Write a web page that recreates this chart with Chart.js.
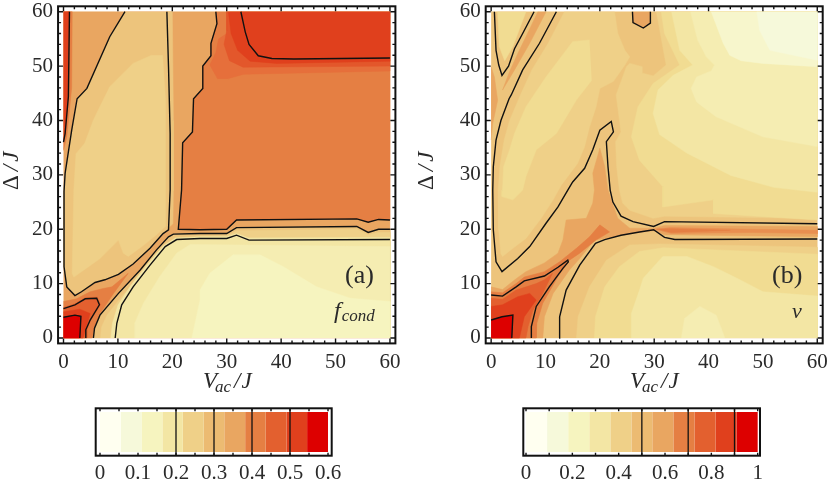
<!DOCTYPE html>
<html><head><meta charset="utf-8">
<script src="https://cdn.jsdelivr.net/npm/chart.js@4"></script>
<style>html,body{margin:0;background:#fff}canvas{position:absolute}</style>
</head><body>
<canvas id="pa" style="left:0;top:0"></canvas>
<canvas id="pb" style="left:415px;top:0"></canvas>
<canvas id="ca" style="left:80px;top:395px"></canvas>
<canvas id="cb" style="left:510px;top:395px"></canvas>
<script>
/* ---------- tick values ---------- */
const panelTicks=[0,10,20,30,40,50,60];
const panelMinor=[0,2,4,6,8,10,12,14,16,18,20,22,24,26,28,30,32,34,36,38,40,42,44,46,48,50,52,54,56,58,60];
const barATicks=[0,0.1,0.2,0.3,0.4,0.5,0.6];
const barAMinor=[0,0.05,0.1,0.15,0.2,0.25,0.3,0.35,0.4,0.45,0.5,0.55,0.6];
const barBTicks=[0,0.2,0.4,0.6,0.8,1];
const barBMinor=[0,0.1,0.2,0.3,0.4,0.5,0.6,0.7,0.8,0.9,1];
const barALevels=[0.2,0.3,0.4,0.5];
const barBLevels=[0.5,0.7,0.9];
const barAEdges=[0,0.0545,0.109,0.164,0.218,0.273,0.327,0.382,0.436,0.491,0.545,0.6];
const barBEdges=[0,0.091,0.182,0.273,0.364,0.455,0.545,0.636,0.727,0.818,0.909,1];
/* ---------- colour levels ---------- */
const c0='#FFFFF0',c1='#F6F9DA',c2='#F6F4BF',c3='#F3E6A4',c4='#EFD088',c5='#ECBB72',c6='#E9A661',c7='#E57F43',c8='#E3602F',c9='#E0401D',c10='#DD0000';
const bandColors=[c0,c1,c2,c3,c4,c5,c6,c7,c8,c9,c10];
const t35='#F1DC92',t25='#F5EDB2',t15='#F7F6CC',t5='#EDC47C',t75='#E66F3B',t85='#E3572B',t65='#E88F50';
const full=[[0,0],[60,0],[60,60],[0,60]];

/* ---------- panel (a): contour lines ---------- */
const aStripLine=[[1.1,60],[0.9,44.4],[0.3,37.6],[0,36]];
const aLine3=[[11.3,60],[8.5,55.4],[4.3,45.9],[2.5,44],[1.5,38.2],[0.3,30.3],[0.1,27],[0.1,13.1],[0.6,9.4],[2.1,7.8],[3.3,8.5],[5.8,10.2],[7.6,10.7],[10.1,11.7],[12.8,13.6],[15.9,16.5],[18.3,19.2],[19.3,19.9],[19.6,27.2],[19.6,37.6],[19.3,49.9],[19,60]];
const aLine4=[[28,60],[28.2,57.8],[27.1,54.2],[27.1,51.9],[25.6,50],[25.6,45.9],[23.9,44],[23.7,37.9],[21.9,35.9],[21.7,27.2],[21.1,20],[25.1,19.9],[30,20],[31.8,21.7],[53.9,21.9],[56,21.3],[57.9,21.8],[60,21.7]];
const aLine5=[[32.6,60],[33.4,56.3],[34.1,54],[35.8,51.9],[38.3,51.4],[42.3,51.3],[60,51.5]];
const aMidLine=[[5.5,0],[5.7,1.8],[6.7,4.2],[10.1,8.2],[14.1,12.5],[17.1,16.2],[19.3,18.6],[20.2,19.1],[25.1,19.2],[30,19.2],[31.8,20.3],[53.9,20.5],[56,19.4],[57.9,20],[60,20]];
const aLowLine=[[9.5,0],[9.8,2.7],[10.7,6.1],[12.8,9.4],[15.9,13.4],[18.7,16.8],[20.8,18.1],[25.1,18.3],[30,18.3],[31.8,18.9],[34.1,18],[60,18.1]];
const aRedLine4=[[0,5.4],[2.1,6.1],[4,7.2],[6.1,7.3],[6.6,6.1],[4.9,3.3],[4.1,1.5],[4.1,0]];
const aRedLine5=[[0,3.8],[2.1,4.2],[3.2,4],[3,0]];
/* ---------- panel (a): filled bands ---------- */
const aStrip7=[[0,60],[1.6,60],[1.5,46],[0.6,37],[0,34.5]];
const aStrip9=[[0,60],[1.1,60],[0.9,44.4],[0.3,37.6],[0,36]];
const aRim5=[[19,60],[20,60],[20.2,40],[20.2,27],[20.1,21],[19,20]];
const aIn4=[[16.2,52],[12.8,50.5],[8.5,46.2],[5.5,40.1],[3.9,35.8],[2.3,33.9],[1.9,27.2],[1.6,11.9],[1.9,11.2],[4.6,13.1],[6.7,14.6],[10.1,18],[11,15.6],[11.9,15],[14.4,16.8],[17.1,19],[18.7,20.5],[18.8,27.2],[18.7,43.8],[18.2,52]];
const aBlock7=[[28,60],[28.2,57.8],[27.1,54.2],[27.1,51.9],[25.6,50],[25.6,45.9],[23.9,44],[23.7,37.9],[21.9,35.9],[21.7,27.2],[21.1,20],[25.1,19.9],[30,20],[31.8,21.7],[53.9,21.9],[56,21.3],[57.9,21.8],[60,21.7],[60,60]];
const aBlock75=[[30,60],[30,56],[28.5,55],[28,52.5],[26.9,50.2],[28.3,47.7],[30.3,47.7],[33.1,48.5],[60,49.1],[60,60]];
const aBlock85=[[30,60],[30,56.5],[29.5,54],[30.5,51],[33,49.8],[60,50],[60,60]];
const aBlock9=[[30.3,60],[30.8,56],[32,52.9],[34.3,50.9],[39.2,50.5],[60,50.9],[60,60]];
const aRidge7=[[0,6.7],[2.4,7.2],[4.9,8.5],[7.3,9.1],[8.9,9.4],[11.9,11.9],[9.2,8.2],[6.7,4.5],[5.2,0],[0,0]];
const aRed8=[[0,5.6],[2.1,6.3],[4,7.4],[6.2,7.5],[6.8,6.1],[5,3.3],[4.3,1.5],[4.3,0],[0,0]];
const aRed9=[[0,4.8],[3,5.3],[4.9,4.5],[3.6,0],[0,0]];
const aRed10=[[0,3.8],[2.1,4.2],[3.2,4],[3,0],[0,0]];
const aBelow5=[[5.5,0],[5.7,1.8],[6.7,4.2],[10.1,8.2],[14.1,12.5],[17.1,16.2],[19.3,18.6],[20.2,19.1],[25.1,19.2],[30,19.2],[31.8,20.3],[53.9,20.5],[56,19.4],[57.9,20],[60,20],[60,0]];
const aBelow4=[[6.8,0],[7,2],[8,4.2],[11,8],[15,12.2],[18,15.8],[20.2,18],[25.1,18.7],[30,18.8],[31.8,19.7],[53.9,20],[56,19],[58,19.4],[60,19.4],[60,0]];
const aBelow3=[[8.7,0],[9,2.7],[10,6],[12.2,9.4],[15.3,13.4],[18.3,16.9],[20.6,18.4],[25,18.6],[30,18.6],[31.8,19.2],[34,18.4],[60,18.5],[60,0]];
const aBelow25=[[13.1,0],[13.1,2.7],[14.7,6.4],[17.7,11.3],[20.8,15.6],[23.3,17.2],[60,16.8],[60,0]];
const aBelow2=[[23.6,0],[25.1,7],[25.1,8.8],[26.9,11.9],[31.2,15.3],[36.1,15.3],[40.4,13.1],[46.5,9.4],[52.7,7.3],[60,6.7],[60,0]];

/* ---------- panel (b): contour lines ---------- */
const bLineP=[[0.6,60],[0.9,52.9],[1.4,50.2],[2,48.3],[3.2,50],[4.3,53.2],[5.8,56],[7.9,60]];
const bLineQ=[[12,60],[8.9,54.2],[5.8,49.3],[3.7,44.7],[3.3,44],[1.8,40],[0.9,36.4],[0.4,31.5],[0.3,27.2],[0.4,19.9],[0.9,14],[2,12.2],[4.9,14.6],[7.1,16.8],[10.1,21.1],[12.3,24.1],[14.1,27.2],[15,28.7],[17.2,31.2],[18.7,34.6],[20,38.2],[22.1,39.8],[22.5,37.9],[21.2,36.1],[21.5,31.5],[21.9,27.2],[22.4,25],[23.9,22.4],[26.1,21.4],[29.9,20.5],[31.9,21.4],[60,21]];
const bLineR=[[12.5,0],[12.6,3.9],[13.8,8.8],[16.3,13.4],[19.2,17.4],[20.9,18.1],[23.9,18.9],[27.3,19.5],[29.9,19.9],[31.9,18.5],[33.8,18.1],[60,18.2]];
const bLineS=[[0,7.9],[2.1,7.7],[4.6,9.4],[6.1,10.5],[9.8,11.4],[12.3,13],[14.1,14.3],[14.2,14],[13.2,12.8],[10.7,9.4],[8.3,5.8],[7.4,2.1],[7.4,0]];
const bLineT=[[0,3.3],[2,3.9],[4,4.2],[3.8,0]];
const bLineLoop=[[26,60],[26.1,58],[28,57],[29.3,57.9],[29.3,60]];
/* ---------- panel (b): filled bands ---------- */
const bOval4=[[13.5,60],[10.5,54.2],[7.5,49.3],[5.4,44.7],[3.4,40],[2.4,36.4],[1.6,31.5],[1.3,27.2],[1.4,19.9],[1.8,15.5],[2.1,15],[4,16.5],[6.4,18.3],[9.2,22],[11.4,25.4],[12.9,28.1],[15.9,32.1],[17.2,35.2],[18.1,38.8],[19.3,42.5],[20,45.9],[22.5,47.2],[24.6,50.2],[25.5,51.7],[24.6,52.9],[23.3,56],[22.7,60]];
const bRight4=[[30.4,60],[32.2,50.2],[29.8,48.2],[27.9,48.7],[27.8,49.9],[25.5,50.5],[24.9,49.9],[23,44.7],[23.9,37.9],[22.9,36.1],[23.1,31.5],[23.6,27.2],[24.2,24.8],[25.5,23.5],[29.8,22],[31.9,22.4],[60,22],[60,60]];
const bLow4=[[15.7,0],[16,3.9],[18.1,9.4],[21.2,14.3],[25.5,17.1],[31,17.3],[60,16.7],[60,0]];
const bLoop4=[[1.2,60],[1.5,53.6],[2.5,51],[4,53.6],[6.4,60]];
const bOval35=[[18.1,54.8],[15,54.5],[10.1,48],[6.4,42.5],[4.3,37.6],[3.4,34.6],[2.3,31.5],[2.1,27.2],[2,26],[4,25.4],[5.8,27.2],[6.4,29.7],[8.3,34.6],[12,37.6],[15.7,43.8],[18.5,47.4]];
const bRight35=[[31.3,60],[31.9,56],[34.7,50.2],[29.8,46.8],[27,42.5],[25.8,37],[27.3,32.7],[31.6,27.8],[31.6,24.1],[40.9,25.4],[40.9,22.9],[60,21.7],[60,60]];
const bRight3=[[33.2,60],[34.7,52.9],[37.1,50.2],[33.5,48.3],[30.7,45.6],[29.8,41.3],[31,37.4],[36,34],[44.1,29.9],[52,27.7],[60,26.8],[60,60]];
const bRight25=[[36.7,60],[38,54.8],[39.6,51.7],[41.1,50.2],[40.5,49.1],[37.8,48],[36.8,45.9],[37.8,43.4],[41.4,40.7],[50,37],[60,35.2],[60,60]];
const bRight2=[[40.5,60],[42.7,54.2],[43.9,52],[46,51],[50,50.5],[60,49.9],[60,60]];
const bRight1=[[48.9,60],[49.4,56.6],[51.3,52.9],[60,51.1],[60,60]];
const bLow35=[[19,0],[19.2,3.9],[20.9,9.4],[23.6,13.1],[27.3,15.9],[31.6,16.6],[60,15.4],[60,0]];
const bLow3=[[25.8,0],[25.8,4.5],[27.3,8.8],[28,11],[31.6,15],[36,15],[40.9,13.1],[45.2,11],[50,8.5],[60,7.7],[60,0]];
const bIsland25=[[35,0],[35.6,3.6],[38.4,5.8],[41.4,4.2],[43,0]];
const bEdge6=[[0,49.9],[0.6,48],[1.2,43.7],[0.3,39.5],[0,36.4]];
const bArm6=[[10.1,60],[7.1,54.2],[4.3,49.3],[2.1,45.6],[3.4,49],[4.9,52.3],[6.4,55.4],[8.6,60]];
const bLoop6=[[26,60],[26.1,58],[28,57],[29.3,57.9],[29.3,60]];
const bRidge6=[[0,9.4],[2.1,8.9],[4.6,10.9],[6.4,12.2],[9.8,13.8],[12.3,15.6],[13.2,18],[13.8,21.7],[17.5,22],[18.7,24.8],[19,27.2],[18.7,30.3],[20,34.9],[20.9,31.5],[21.5,27.2],[22.1,25.4],[23.3,22],[25.5,20.2],[29.9,20.2],[31.9,20.7],[60,20.5],[60,18.6],[31.9,19],[29.9,19.7],[25.5,19.2],[20.9,18.3],[19,18],[16.3,14.6],[14.4,12.5],[11.4,8.2],[9.8,3.9],[9.5,0],[0,0]];
const bBandTip65=[[30,20],[33,20.3],[48,20],[60,19.8],[60,19.2],[48,19.4],[33,19.2]];
const bBandTip7=[[30.5,20],[33,20.1],[44,19.8],[33,19.4]];
const bRidge7=[[0,8.5],[2.1,8.3],[4.6,10],[6.1,11.2],[9.8,12.2],[12.6,14],[15.7,16.5],[18.1,18.6],[20,20.8],[21.8,19.5],[19.3,18],[16.3,15.6],[14.4,14.3],[12.3,11.3],[9.5,6.4],[8.4,2.7],[8.3,0],[0,0]];
const bRed8=[[0,7.3],[2.1,7.1],[4.6,8.8],[8.3,10],[9.8,10.7],[11.3,11.9],[9.5,8.2],[7.7,5.1],[6.8,2.1],[6.4,0],[0,0]];
const bRed9=[[0,5.8],[2.1,6.1],[4.9,7.6],[7.1,8.2],[8.3,7],[6.1,3.9],[5.2,0],[0,0]];
const bRed10=[[0,3.3],[2,3.9],[4,4.2],[3.8,0],[0,0]];

/* ---------- layers, painted in this order ---------- */
const aLayers=[[full,c6],[aStrip7,c7],[aStrip9,c9],[aLine3,t5],[aRim5,t5],[aIn4,c4],[aBlock7,c7],[aBlock75,t75],[aBlock85,t85],[aBlock9,c9],[aRidge7,c7],[aRed8,c8],[aRed9,c9],[aRed10,c10],[aBelow5,t5],[aBelow4,c4],[aBelow3,c3],[aBelow25,t25],[aBelow2,c2]];
const aLines=[aStripLine,aLine3,aLine4,aLine5,aMidLine,aLowLine,aRedLine4,aRedLine5];
const bLayers=[[full,t5],[bOval4,c4],[bRight4,c4],[bLow4,c4],[bLoop4,t35],[bOval35,t35],[bRight35,t35],[bRight3,c3],[bRight25,t25],[bRight2,t15],[bRight1,c1],[bLow35,t35],[bLow3,c3],[bIsland25,t25],[bEdge6,c6],[bArm6,c6],[bLoop6,c6],[bRidge6,c6],[bBandTip65,t65],[bBandTip7,c7],[bRidge7,c7],[bRed8,c8],[bRed9,c9],[bRed10,c10]];
const bLines=[bLineP,bLineQ,bLineR,bLineS,bLineT,bLineLoop];

const ink='#111';
const textInk='#2a2a2a';
const serif='"Liberation Serif"';
const pts=a=>a.map(p=>({x:p[0],y:p[1]}));
function datasets(layers,lines){
  const out=[];
  lines.forEach(l=>out.push({data:pts(l),showLine:true,fill:false,borderColor:ink,borderWidth:1.4,pointRadius:0,tension:0}));
  layers.slice().reverse().forEach(l=>out.push({data:pts(l[0]),showLine:true,fill:'shape',backgroundColor:l[1],borderColor:l[1],borderWidth:0.5,pointRadius:0,tension:0}));
  return out;
}
function rich(ctx,parts,x,y,rot){
  ctx.save();ctx.translate(x,y);if(rot)ctx.rotate(rot);
  ctx.fillStyle=textInk;ctx.textAlign='left';ctx.textBaseline='alphabetic';
  let cx=0;
  parts.forEach(p=>{ctx.font=p.f;ctx.fillText(p.t,cx,p.dy||0);cx+=ctx.measureText(p.t).width+(p.g||0);});
  ctx.restore();
}
function frameTicks(ctx,ca,xs,major,minor,vertical,yScale){
  ctx.save();ctx.strokeStyle=ink;
  minor.forEach(v=>{
    const maj=major.includes(v),len=maj?5:3;
    ctx.lineWidth=1.4;
    const px=xs.getPixelForValue(v);
    ctx.beginPath();ctx.moveTo(px,ca.top);ctx.lineTo(px,ca.top+len);ctx.moveTo(px,ca.bottom);ctx.lineTo(px,ca.bottom-len);ctx.stroke();
    if(vertical){const py=yScale.getPixelForValue(v);
      ctx.beginPath();ctx.moveTo(ca.left,py);ctx.lineTo(ca.left+len,py);ctx.moveTo(ca.right,py);ctx.lineTo(ca.right-len,py);ctx.stroke();}
  });
  ctx.lineWidth=2;ctx.strokeRect(ca.left,ca.top,ca.right-ca.left,ca.bottom-ca.top);
  ctx.restore();
}
const V=[{t:'V',f:`italic 23px ${serif}`,g:-2},{t:'ac',f:`italic 17px ${serif}`,dy:4,g:3},{t:'/',f:`italic 23px ${serif}`,g:1},{t:'J',f:`italic 23px ${serif}`}];
const D=[{t:'\u0394',f:`23px ${serif}`,g:4},{t:'/',f:`italic 23px ${serif}`,g:3},{t:'J',f:`italic 23px ${serif}`}];
function panel(id,cssW,geom,layers,lines,tag,decor){
  const cv=document.getElementById(id);cv.width=cssW;cv.height=395;
  new Chart(cv,{type:'scatter',data:{datasets:datasets(layers,lines)},
   options:{responsive:false,animation:false,
    layout:{padding:{left:0,right:geom.right,top:6.3,bottom:0}},
    plugins:{legend:{display:false},tooltip:{enabled:false}},
    scales:{
     x:{type:'linear',min:-1,max:61,grid:{display:false,drawTicks:false},border:{display:false},
        afterBuildTicks:s=>{s.ticks=panelTicks.map(v=>({value:v}));},
        afterFit:s=>{s.height=51.6;s.paddingLeft=s.paddingRight=0;},
        ticks:{autoSkip:false,maxRotation:0,padding:6,color:textInk,font:{family:'Liberation Serif',size:21},callback:v=>String(v)}},
     y:{type:'linear',min:-1,max:61,grid:{display:false,drawTicks:false},border:{display:false},
        afterBuildTicks:s=>{s.ticks=panelTicks.map(v=>({value:v}));},
        afterFit:s=>{s.width=geom.left;s.paddingTop=s.paddingBottom=0;},
        ticks:{autoSkip:false,padding:5,color:textInk,font:{family:'Liberation Serif',size:21},callback:v=>String(v)}}
    }},
   plugins:[{id:'deco',afterDraw(c){
     const ctx=c.ctx;
     frameTicks(ctx,c.chartArea,c.scales.x,panelTicks,panelMinor,true,c.scales.y);
     rich(ctx,V,geom.vx,388);
     rich(ctx,D,geom.dx,190,-Math.PI/2);
     rich(ctx,[{t:tag,f:`26px ${serif}`}],geom.tx,283);
     rich(ctx,decor,geom.sx,geom.sy);
   }}]});
}
panel('pa',415,{left:58.06,right:19.6,vx:203,dx:18,tx:345,sx:334,sy:318},aLayers,aLines,'(a)',
  [{t:'f',f:`italic 24px ${serif}`,g:1},{t:'cond',f:`italic 17px ${serif}`,dy:3}]);
panel('pb',415,{left:70.7,right:7.3,vx:215,dx:18,tx:357,sx:377,sy:318},bLayers,bLines,'(b)',
  [{t:'\u03BD',f:`italic 22px ${serif}`}]);

function colorbar(id,edges,ticks,minor,levels,pad,min,max){
  const cv=document.getElementById(id);cv.width=270;cv.height=85;
  const ds=bandColors.map((col,i)=>({data:[[edges[i],edges[i+1]]],backgroundColor:col,borderWidth:0,barPercentage:1,categoryPercentage:0.84,grouped:false}));
  new Chart(cv,{type:'bar',data:{labels:[''],datasets:ds},
   options:{indexAxis:'y',responsive:false,animation:false,
    layout:{padding:{left:pad.l,right:pad.r,top:13.3,bottom:0}},
    plugins:{legend:{display:false},tooltip:{enabled:false}},
    scales:{
     y:{display:false},
     x:{type:'linear',min,max,grid:{display:false,drawTicks:false},border:{display:false},
        afterBuildTicks:s=>{s.ticks=ticks.map(v=>({value:v}));},
        afterFit:s=>{s.height=24.3;s.paddingLeft=s.paddingRight=0;},
        ticks:{autoSkip:false,maxRotation:0,padding:5,color:textInk,font:{family:'Liberation Serif',size:21},callback:v=>String(v)}}
    }},
   plugins:[{id:'deco',afterDraw(c){
     const ctx=c.ctx,ca=c.chartArea,xs=c.scales.x;
     ctx.save();ctx.strokeStyle=ink;ctx.lineWidth=1.3;
     levels.forEach(v=>{const p=xs.getPixelForValue(v);ctx.beginPath();ctx.moveTo(p,ca.top);ctx.lineTo(p,ca.bottom);ctx.stroke();});
     ctx.restore();
     ctx.save();ctx.strokeStyle=ink;
     minor.forEach(v=>{const p=xs.getPixelForValue(v);ctx.lineWidth=1.4;ctx.beginPath();ctx.moveTo(p,ca.top);ctx.lineTo(p,ca.top+3);ctx.moveTo(p,ca.bottom);ctx.lineTo(p,ca.bottom-3);ctx.stroke();});
     ctx.lineWidth=2;ctx.strokeRect(ca.left,ca.top,ca.right-ca.left,ca.bottom-ca.top);
     ctx.restore();
   }}]});
}
colorbar('ca',barAEdges,barATicks,barAMinor,barALevels,{l:15.7,r:18.3},-0.0113,0.6097);
colorbar('cb',barBEdges,barBTicks,barBMinor,barBLevels,{l:13.3,r:20},-0.0117,1.01);
</script>
</body></html>
